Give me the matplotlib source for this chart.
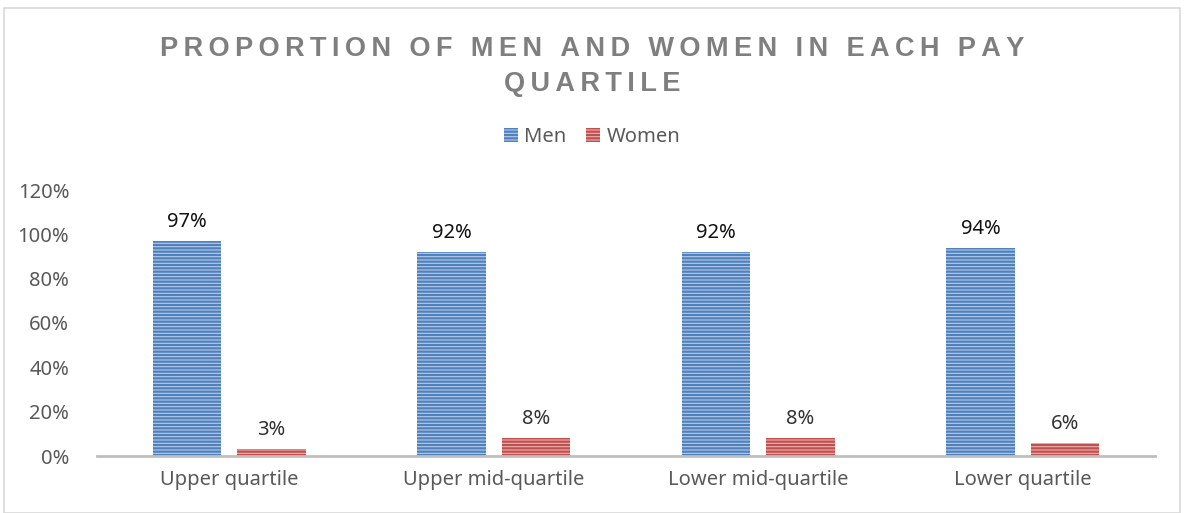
import numpy as np
import matplotlib
matplotlib.use("Agg")
import matplotlib.pyplot as plt
from matplotlib.patches import Rectangle

categories = ["Upper quartile", "Upper mid-quartile", "Lower mid-quartile", "Lower quartile"]
men = [0.97, 0.92, 0.92, 0.94]
women = [0.03, 0.08, 0.08, 0.06]

plt.rcParams['font.family'] = ['Noto Sans', 'DejaVu Sans']
plt.rcParams['hatch.linewidth'] = 1.6

fig = plt.figure(figsize=(11.84, 5.13), dpi=100)
ax = fig.add_axes([97 / 1184, 57 / 513, 1058 / 1184, 266 / 513])

x = np.arange(len(categories))
w = 0.26
off = 0.16
b1 = ax.bar(x - off, men, w, color='#b8cbe8', hatch='-----', edgecolor='#5b87c6',
            linewidth=0, label='Men')
b2 = ax.bar(x + off, women, w, color='#ebb3b2', hatch='-----', edgecolor='#c0504d',
            linewidth=0, label='Women')
for b in b1:
    b._hatch_color = matplotlib.colors.to_rgba('#4f81bd')
for b in b2:
    b._hatch_color = matplotlib.colors.to_rgba('#c0504d')

for xi, v in zip(x - off, men):
    ax.text(xi, v + 0.04, f"{v * 100:.0f}%", ha='center', va='bottom', fontsize=14.5, color='#111111')
for xi, v in zip(x + off, women):
    ax.text(xi, v + 0.04, f"{v * 100:.0f}%", ha='center', va='bottom', fontsize=14.5, color='#333333')

ax.set_xlim(-0.5, 3.5)
ax.set_ylim(0, 1.2)
ax.set_yticks(np.arange(0, 1.21, 0.2))
ax.set_yticklabels([f"{t * 100:.0f}%" for t in np.arange(0, 1.21, 0.2)])
ax.set_xticks(x)
ax.set_xticklabels(categories)
ax.tick_params(axis='both', length=0, labelsize=14.5, colors='#595959', pad=10)
ax.tick_params(axis='y', pad=20)
for s in ['top', 'right', 'left']:
    ax.spines[s].set_visible(False)
ax.spines['bottom'].set_color('#bfbfbf')
ax.spines['bottom'].set_linewidth(2)

title = "PROPORTION OF MEN AND WOMEN IN EACH PAY\nQUARTILE"
spaced = "\n".join("\u2009".join(list(line)) for line in title.split("\n"))
fig.text(0.5, 0.93, spaced, ha='center', va='top', fontsize=19.5, fontweight='bold',
         color='#7f7f7f', family=['Liberation Sans', 'DejaVu Sans'], linespacing=1.45)

leg = fig.legend(handles=[b1, b2], labels=['Men', 'Women'], loc='center', bbox_to_anchor=(0.5, 1 - 137 / 513),
                 ncol=2, frameon=False, fontsize=14.5, handlelength=0.7, handleheight=0.7,
                 handletextpad=0.3, columnspacing=1.0, labelcolor='#595959')

fig.add_artist(Rectangle((4 / 1184, 0), 1176 / 1184, 505 / 513, transform=fig.transFigure,
                         fill=False, edgecolor='#d9d9d9', linewidth=1.2))

fig.savefig("out.png", dpi=100)
